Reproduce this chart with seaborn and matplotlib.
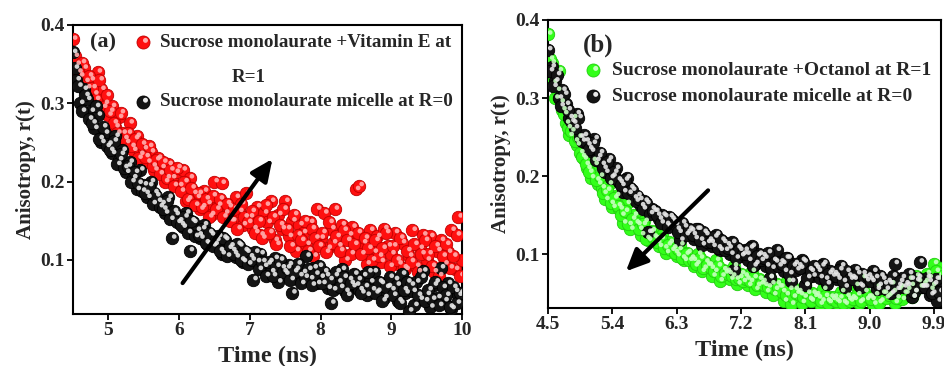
import numpy as np
import pandas as pd
import matplotlib
matplotlib.use("Agg")
import matplotlib.pyplot as plt
import matplotlib.transforms as mtransforms
import seaborn as sns

# ---------------- data ----------------
time_ns = [
    4.50, 4.55, 4.60, 4.65, 4.70, 4.75, 4.80, 4.85, 4.90, 4.95,
    5.00, 5.05, 5.10, 5.15, 5.20, 5.25, 5.30, 5.35, 5.40, 5.45,
    5.50, 5.55, 5.60, 5.65, 5.70, 5.75, 5.80, 5.85, 5.90, 5.95,
    6.00, 6.05, 6.10, 6.15, 6.20, 6.25, 6.30, 6.35, 6.40, 6.45,
    6.50, 6.55, 6.60, 6.65, 6.70, 6.75, 6.80, 6.85, 6.90, 6.95,
    7.00, 7.05, 7.10, 7.15, 7.20, 7.25, 7.30, 7.35, 7.40, 7.45,
    7.50, 7.55, 7.60, 7.65, 7.70, 7.75, 7.80, 7.85, 7.90, 7.95,
    8.00, 8.05, 8.10, 8.15, 8.20, 8.25, 8.30, 8.35, 8.40, 8.45,
    8.50, 8.55, 8.60, 8.65, 8.70, 8.75, 8.80, 8.85, 8.90, 8.95,
    9.00, 9.05, 9.10, 9.15, 9.20, 9.25, 9.30, 9.35, 9.40, 9.45,
    9.50, 9.55, 9.60, 9.65, 9.70, 9.75, 9.80, 9.85, 9.90, 9.95,
    10.00,
]
time_ns_mid = [
    4.525, 4.575, 4.625, 4.675, 4.725, 4.775, 4.825, 4.875, 4.925, 4.975,
    5.025, 5.075, 5.125, 5.175, 5.225, 5.275, 5.325, 5.375, 5.425, 5.475,
    5.525, 5.575, 5.625, 5.675, 5.725, 5.775, 5.825, 5.875, 5.925, 5.975,
    6.025, 6.075, 6.125, 6.175, 6.225, 6.275, 6.325, 6.375, 6.425, 6.475,
    6.525, 6.575, 6.625, 6.675, 6.725, 6.775, 6.825, 6.875, 6.925, 6.975,
    7.025, 7.075, 7.125, 7.175, 7.225, 7.275, 7.325, 7.375, 7.425, 7.475,
    7.525, 7.575, 7.625, 7.675, 7.725, 7.775, 7.825, 7.875, 7.925, 7.975,
    8.025, 8.075, 8.125, 8.175, 8.225, 8.275, 8.325, 8.375, 8.425, 8.475,
    8.525, 8.575, 8.625, 8.675, 8.725, 8.775, 8.825, 8.875, 8.925, 8.975,
    9.025, 9.075, 9.125, 9.175, 9.225, 9.275, 9.325, 9.375, 9.425, 9.475,
    9.525, 9.575, 9.625, 9.675, 9.725, 9.775, 9.825, 9.875, 9.925, 9.975,
]

# panel (a): micelle, R=0
a_micelle = [
    0.365, 0.330, 0.300, 0.318, 0.305, 0.290, 0.268, 0.285, 0.250, 0.262,
    0.248, 0.236, 0.258, 0.228, 0.240, 0.212, 0.225, 0.205, 0.190, 0.215,
    0.196, 0.180, 0.200, 0.186, 0.175, 0.172, 0.160, 0.180, 0.128, 0.158,
    0.150, 0.142, 0.160, 0.112, 0.148, 0.138, 0.128, 0.145, 0.120, 0.132,
    0.120, 0.130, 0.108, 0.126, 0.115, 0.112, 0.104, 0.118, 0.098, 0.110,
    0.104, 0.075, 0.098, 0.108, 0.092, 0.095, 0.085, 0.102, 0.072, 0.090,
    0.082, 0.094, 0.058, 0.088, 0.080, 0.084, 0.105, 0.076, 0.090, 0.070,
    0.078, 0.085, 0.064, 0.045, 0.080, 0.072, 0.088, 0.060, 0.075, 0.066,
    0.068, 0.062, 0.080, 0.055, 0.072, 0.085, 0.060, 0.070, 0.052, 0.066,
    0.062, 0.075, 0.048, 0.082, 0.058, 0.035, 0.060, 0.072, 0.050, 0.086,
    0.056, 0.040, 0.068, 0.052, 0.090, 0.048, 0.070, 0.038, 0.060, 0.055,
    0.050,
]
a_micelle_mid = [
    0.345, 0.322, 0.290, 0.310, 0.280, 0.275, 0.296, 0.255, 0.270, 0.245,
    0.240, 0.252, 0.222, 0.235, 0.218, 0.220, 0.200, 0.212, 0.198, 0.188,
    0.185, 0.195, 0.172, 0.182, 0.168, 0.165, 0.175, 0.152, 0.162, 0.148,
    0.145, 0.155, 0.135, 0.150, 0.130, 0.132, 0.140, 0.122, 0.135, 0.118,
    0.125, 0.112, 0.128, 0.105, 0.118, 0.108, 0.120, 0.100, 0.112, 0.095,
    0.100, 0.110, 0.088, 0.098, 0.080, 0.098, 0.080, 0.092, 0.100, 0.085,
    0.090, 0.075, 0.085, 0.095, 0.070, 0.078, 0.088, 0.068, 0.082, 0.092,
    0.070, 0.080, 0.075, 0.062, 0.085, 0.065, 0.078, 0.055, 0.070, 0.082,
    0.075, 0.058, 0.066, 0.085, 0.062, 0.058, 0.072, 0.048, 0.065, 0.078,
    0.055, 0.068, 0.045, 0.062, 0.072, 0.068, 0.042, 0.055, 0.078, 0.048,
    0.062, 0.050, 0.072, 0.042, 0.065, 0.055, 0.040, 0.065, 0.045, 0.058,
]

# panel (a): + Vitamin E, R=1
a_vitamin_e = [
    0.382, 0.350, 0.335, 0.345, 0.320, 0.330, 0.312, 0.340, 0.318, 0.300,
    0.285, 0.296, 0.270, 0.282, 0.262, 0.250, 0.275, 0.240, 0.258, 0.235,
    0.242, 0.225, 0.238, 0.215, 0.230, 0.218, 0.200, 0.222, 0.205, 0.212,
    0.195, 0.215, 0.175, 0.205, 0.185, 0.180, 0.165, 0.188, 0.172, 0.158,
    0.200, 0.170, 0.198, 0.160, 0.168, 0.150, 0.180, 0.162, 0.145, 0.185,
    0.155, 0.140, 0.168, 0.132, 0.160, 0.148, 0.175, 0.125, 0.158, 0.140,
    0.175, 0.130, 0.150, 0.112, 0.145, 0.135, 0.120, 0.148, 0.105, 0.165,
    0.128, 0.160, 0.115, 0.140, 0.165, 0.118, 0.145, 0.100, 0.132, 0.142,
    0.190, 0.195, 0.122, 0.095, 0.138, 0.110, 0.130, 0.098, 0.140, 0.118,
    0.108, 0.135, 0.095, 0.122, 0.088, 0.105, 0.138, 0.092, 0.115, 0.132,
    0.100, 0.130, 0.085, 0.112, 0.125, 0.095, 0.110, 0.138, 0.088, 0.155,
    0.100,
]
a_vitamin_e_mid = [
    0.360, 0.340, 0.352, 0.328, 0.335, 0.320, 0.305, 0.330, 0.295, 0.310,
    0.290, 0.275, 0.262, 0.288, 0.255, 0.262, 0.245, 0.255, 0.230, 0.248,
    0.232, 0.245, 0.220, 0.228, 0.210, 0.225, 0.205, 0.215, 0.195, 0.218,
    0.188, 0.200, 0.178, 0.192, 0.170, 0.185, 0.168, 0.178, 0.155, 0.182,
    0.165, 0.178, 0.155, 0.172, 0.150, 0.165, 0.140, 0.172, 0.155, 0.148,
    0.162, 0.135, 0.150, 0.128, 0.170, 0.135, 0.155, 0.120, 0.145, 0.165,
    0.140, 0.118, 0.158, 0.132, 0.125, 0.150, 0.112, 0.140, 0.128, 0.118,
    0.135, 0.110, 0.148, 0.122, 0.130, 0.112, 0.138, 0.125, 0.108, 0.120,
    0.135, 0.108, 0.128, 0.115, 0.100, 0.125, 0.105, 0.115, 0.135, 0.092,
    0.118, 0.100, 0.128, 0.090, 0.112, 0.098, 0.120, 0.085, 0.108, 0.125,
    0.108, 0.092, 0.118, 0.080, 0.105, 0.120, 0.090, 0.105, 0.132, 0.080,
]

# panel (b): micelle, R=0
b_micelle = [
    0.362, 0.340, 0.322, 0.300, 0.310, 0.292, 0.275, 0.268, 0.280, 0.250,
    0.252, 0.240, 0.232, 0.248, 0.225, 0.215, 0.205, 0.222, 0.200, 0.210,
    0.192, 0.180, 0.198, 0.185, 0.172, 0.175, 0.162, 0.168, 0.128, 0.158,
    0.155, 0.145, 0.150, 0.138, 0.148, 0.142, 0.132, 0.118, 0.135, 0.128,
    0.130, 0.120, 0.132, 0.112, 0.125, 0.118, 0.110, 0.125, 0.105, 0.115,
    0.112, 0.100, 0.080, 0.108, 0.098, 0.105, 0.092, 0.110, 0.088, 0.100,
    0.098, 0.085, 0.070, 0.092, 0.105, 0.090, 0.078, 0.095, 0.065, 0.088,
    0.085, 0.092, 0.060, 0.080, 0.072, 0.082, 0.070, 0.088, 0.062, 0.078,
    0.075, 0.068, 0.085, 0.058, 0.072, 0.070, 0.080, 0.060, 0.075, 0.066,
    0.068, 0.078, 0.055, 0.072, 0.062, 0.065, 0.050, 0.088, 0.060, 0.070,
    0.062, 0.075, 0.045, 0.066, 0.090, 0.058, 0.070, 0.048, 0.062, 0.040,
    0.055,
]
b_micelle_mid = [
    0.335, 0.315, 0.330, 0.290, 0.305, 0.285, 0.270, 0.262, 0.275, 0.245,
    0.245, 0.235, 0.242, 0.220, 0.230, 0.210, 0.218, 0.198, 0.205, 0.195,
    0.188, 0.195, 0.178, 0.182, 0.168, 0.170, 0.158, 0.165, 0.152, 0.155,
    0.150, 0.140, 0.148, 0.135, 0.145, 0.138, 0.128, 0.140, 0.125, 0.132,
    0.125, 0.132, 0.118, 0.128, 0.115, 0.115, 0.122, 0.108, 0.118, 0.105,
    0.108, 0.115, 0.095, 0.105, 0.100, 0.100, 0.108, 0.085, 0.098, 0.092,
    0.095, 0.102, 0.082, 0.090, 0.085, 0.088, 0.095, 0.075, 0.085, 0.080,
    0.082, 0.090, 0.070, 0.078, 0.085, 0.078, 0.085, 0.068, 0.075, 0.072,
    0.072, 0.080, 0.065, 0.078, 0.068, 0.068, 0.075, 0.058, 0.070, 0.072,
    0.065, 0.070, 0.060, 0.068, 0.055, 0.062, 0.072, 0.055, 0.065, 0.058,
    0.060, 0.068, 0.052, 0.070, 0.058, 0.058, 0.065, 0.050, 0.068, 0.052,
]

# panel (b): + Octanol, R=1
b_octanol = [
    0.382, 0.345, 0.300, 0.335, 0.285, 0.268, 0.252, 0.275, 0.240, 0.230,
    0.222, 0.210, 0.198, 0.215, 0.190, 0.185, 0.170, 0.190, 0.160, 0.175,
    0.158, 0.140, 0.165, 0.132, 0.150, 0.138, 0.125, 0.142, 0.118, 0.130,
    0.120, 0.110, 0.125, 0.102, 0.115, 0.108, 0.098, 0.112, 0.092, 0.102,
    0.095, 0.085, 0.100, 0.078, 0.090, 0.086, 0.072, 0.092, 0.066, 0.080,
    0.078, 0.068, 0.085, 0.062, 0.075, 0.072, 0.060, 0.078, 0.055, 0.068,
    0.065, 0.052, 0.070, 0.048, 0.062, 0.058, 0.040, 0.065, 0.036, 0.055,
    0.052, 0.038, 0.060, 0.042, 0.050, 0.048, 0.036, 0.055, 0.040, 0.045,
    0.045, 0.038, 0.052, 0.036, 0.042, 0.044, 0.060, 0.038, 0.070, 0.042,
    0.045, 0.036, 0.058, 0.040, 0.050, 0.046, 0.062, 0.038, 0.055, 0.042,
    0.050, 0.068, 0.045, 0.072, 0.058, 0.062, 0.075, 0.055, 0.088, 0.068,
    0.082,
]
b_octanol_mid = [
    0.350, 0.320, 0.310, 0.295, 0.280, 0.262, 0.258, 0.245, 0.250, 0.225,
    0.215, 0.205, 0.220, 0.195, 0.200, 0.178, 0.182, 0.165, 0.172, 0.162,
    0.150, 0.155, 0.138, 0.145, 0.140, 0.132, 0.138, 0.120, 0.128, 0.122,
    0.115, 0.120, 0.108, 0.112, 0.105, 0.102, 0.106, 0.095, 0.100, 0.092,
    0.092, 0.088, 0.095, 0.082, 0.086, 0.082, 0.078, 0.085, 0.072, 0.076,
    0.075, 0.072, 0.068, 0.070, 0.065, 0.068, 0.065, 0.070, 0.060, 0.062,
    0.060, 0.058, 0.062, 0.055, 0.058, 0.052, 0.048, 0.055, 0.045, 0.050,
    0.048, 0.045, 0.050, 0.040, 0.046, 0.044, 0.040, 0.046, 0.038, 0.042,
    0.040, 0.044, 0.038, 0.046, 0.040, 0.042, 0.048, 0.040, 0.052, 0.045,
    0.042, 0.048, 0.038, 0.050, 0.044, 0.048, 0.052, 0.044, 0.058, 0.050,
    0.055, 0.060, 0.052, 0.065, 0.058, 0.065, 0.070, 0.060, 0.078, 0.072,
]

a_xticks = [5, 6, 7, 8, 9, 10]
a_xticklabels = ["5", "6", "7", "8", "9", "10"]
b_xticks = [4.5, 5.4, 6.3, 7.2, 8.1, 9.0, 9.9]
b_xticklabels = ["4.5", "5.4", "6.3", "7.2", "8.1", "9.0", "9.9"]
yticks = [0.1, 0.2, 0.3, 0.4]
yticklabels = ["0.1", "0.2", "0.3", "0.4"]

label_vitE = "Sucrose monolaurate +Vitamin E at"
label_vitE_2 = "R=1"
label_oct = "Sucrose monolaurate +Octanol at R=1"
label_mic = "Sucrose monolaurate micelle at R=0"

# ---------------- style ----------------
sns.set_theme(style="white")
plt.rcParams["font.family"] = ["Liberation Serif", "DejaVu Serif"]
plt.rcParams["font.weight"] = "bold"

fig = plt.figure(figsize=(9.45, 3.66), dpi=100)
ax_a = fig.add_axes([0.0772, 0.142, 0.4117, 0.7897])
ax_b = fig.add_axes([0.5799, 0.1585, 0.4159, 0.7869])

MS = 80


def spheres(ax, x, y, base, edge, hi):
    df = pd.DataFrame({"t": x, "r": y})
    sns.scatterplot(data=df, x="t", y="r", ax=ax, s=MS, color=base,
                    edgecolor=edge, linewidth=0.6, legend=False, zorder=3)
    off = mtransforms.offset_copy(ax.transData, fig=fig, x=1.6, y=1.1, units="points")
    ax.scatter(x, y, s=MS * 0.14, color=hi, edgecolors="none",
               transform=off, zorder=3.1, alpha=0.9)


def legend_ball(ax, xa, ya, base, edge, hi):
    ax.scatter([xa], [ya], s=MS * 1.1, color=base, edgecolors=edge, linewidths=0.6,
               transform=ax.transAxes, zorder=6, clip_on=False)
    off = mtransforms.offset_copy(ax.transAxes, fig=fig, x=1.8, y=1.2, units="points")
    ax.scatter([xa], [ya], s=MS * 0.16, color=hi, edgecolors="none",
               transform=off, zorder=6.1, clip_on=False)


RED, RED_E, RED_H = "#ff1010", "#c00000", "#ffb0b0"
BLK, BLK_E, BLK_H = "#141414", "#000000", "#e8e8e8"
GRN, GRN_E, GRN_H = "#33ff1a", "#22cc10", "#c8ffc0"

# panel (a)
spheres(ax_a, time_ns + time_ns_mid, a_vitamin_e + a_vitamin_e_mid, RED, RED_E, RED_H)
spheres(ax_a, time_ns + time_ns_mid, a_micelle + a_micelle_mid, BLK, BLK_E, BLK_H)

# panel (b)
spheres(ax_b, time_ns + time_ns_mid, b_octanol + b_octanol_mid, GRN, GRN_E, GRN_H)
spheres(ax_b, time_ns + time_ns_mid, b_micelle + b_micelle_mid, BLK, BLK_E, BLK_H)

tick_fs = 14
for ax, xt, xtl in [(ax_a, a_xticks, a_xticklabels), (ax_b, b_xticks, b_xticklabels)]:
    ax.set_xlim(4.5, 10.0)
    ax.set_ylim(0.031, 0.4)
    ax.set_xticks(xt)
    ax.set_xticklabels(xtl, fontsize=tick_fs, fontweight="bold")
    ax.set_yticks(yticks)
    ax.set_yticklabels(yticklabels, fontsize=tick_fs, fontweight="bold")
    ax.tick_params(axis="both", which="major", direction="out", length=4, width=1.3,
                   color="black", pad=2, bottom=True, left=True)
    for sp in ax.spines.values():
        sp.set_visible(True)
        sp.set_color("black")
        sp.set_linewidth(1.5)
    ax.set_xlabel("Time (ns)", fontsize=17.5, fontweight="bold", labelpad=5)
    ax.set_ylabel("Anisotropy, r(t)", fontsize=15, fontweight="bold", labelpad=3)
    ax.grid(False)

# arrows
arrow_kw = dict(arrowstyle="-|>,head_length=1.1,head_width=0.5",
                color="black", lw=3.0, shrinkA=0, shrinkB=0)
ax_a.annotate("", xy=(7.32, 0.229), xytext=(6.05, 0.0705), arrowprops=arrow_kw, zorder=7)
ax_b.annotate("", xy=(5.59, 0.078), xytext=(6.74, 0.1817), arrowprops=arrow_kw, zorder=7)

# panel labels & legends (a)
ax_a.text(0.045, 0.941, "(a)", transform=ax_a.transAxes, fontsize=16,
          fontweight="bold", va="center", ha="left")
legend_ball(ax_a, 0.180, 0.941, RED, RED_E, RED_H)
ax_a.text(0.223, 0.941, label_vitE, transform=ax_a.transAxes, fontsize=13.7,
          fontweight="bold", va="center", ha="left")
ax_a.text(0.452, 0.817, label_vitE_2, transform=ax_a.transAxes, fontsize=13.7,
          fontweight="bold", va="center", ha="center")
legend_ball(ax_a, 0.180, 0.734, BLK, BLK_E, BLK_H)
ax_a.text(0.223, 0.734, label_mic, transform=ax_a.transAxes, fontsize=13.7,
          fontweight="bold", va="center", ha="left")

# panel labels & legends (b)
ax_b.text(0.088, 0.913, "(b)", transform=ax_b.transAxes, fontsize=18,
          fontweight="bold", va="center", ha="left")
legend_ball(ax_b, 0.115, 0.826, GRN, GRN_E, GRN_H)
ax_b.text(0.163, 0.826, label_oct, transform=ax_b.transAxes, fontsize=14,
          fontweight="bold", va="center", ha="left")
legend_ball(ax_b, 0.115, 0.736, BLK, BLK_E, BLK_H)
ax_b.text(0.163, 0.736, label_mic, transform=ax_b.transAxes, fontsize=14,
          fontweight="bold", va="center", ha="left")

fig.savefig("out.png", dpi=100)
